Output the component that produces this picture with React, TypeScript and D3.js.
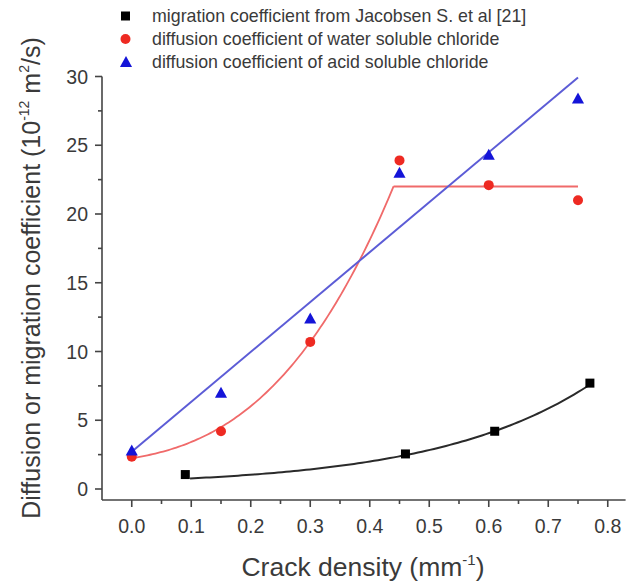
import React from "react";
import * as d3 from "d3";

// ---- data ----
const blackX = [0.09, 0.46, 0.61, 0.77];
const blackY = [1.05, 2.55, 4.2, 7.7];
const redX = [0.0, 0.15, 0.3, 0.45, 0.6, 0.75];
const redY = [2.35, 4.2, 10.7, 23.9, 22.1, 21.0];
const blueX = [0.0, 0.15, 0.3, 0.45, 0.6, 0.75];
const blueY = [2.8, 7.0, 12.4, 23.0, 24.3, 28.4];

// fit parameters
const blackFit = { y0: 0.2, A: 0.39, b: 3.82, x0: 0.098, x1: 0.77 };
const redFitPoly = [2.24, 6.87, 38.2, 109.7]; // c0 + c1 x + c2 x^2 + c3 x^3
const redKnee = 0.44;
const redPlateau = 22.0;
const redEnd = 0.75;

const xTicks = [0, 0.1, 0.2, 0.3, 0.4, 0.5, 0.6, 0.7, 0.8];
const yTicks = [0, 5, 10, 15, 20, 25, 30];

const legendLabels = [
  "migration coefficient from Jacobsen S. et al [21]",
  "diffusion coefficient of water soluble chloride",
  "diffusion coefficient of acid soluble chloride",
];

const FONT = "'Liberation Sans', Arial, Helvetica, sans-serif";
const RED = "#ee2a22";
const RED_LINE = "#f06a6a";
const BLUE = "#1414d8";
const BLUE_LINE = "#5c5cd6";

export default function App() {
  const W = 631;
  const H = 582;
  const x = d3.scaleLinear().domain([-0.05, 0.83]).range([102, 625.6]);
  const y = d3.scaleLinear().domain([-0.8, 30]).range([500, 76.5]);

  // linear least squares for the blue series
  const mx = d3.mean(blueX)!;
  const my = d3.mean(blueY)!;
  const sxy = d3.sum(blueX.map((v, i) => (v - mx) * (blueY[i] - my)));
  const sxx = d3.sum(blueX.map((v) => (v - mx) * (v - mx)));
  const slope = sxy / sxx;
  const icpt = my - slope * mx;

  const line = d3
    .line<[number, number]>()
    .x((d) => x(d[0]))
    .y((d) => y(d[1]));

  const bluePts: [number, number][] = [
    [0, icpt],
    [0.75, icpt + slope * 0.75],
  ];

  const blackPts: [number, number][] = d3
    .range(0, 101)
    .map((i) => blackFit.x0 + ((blackFit.x1 - blackFit.x0) * i) / 100)
    .map((v) => [v, blackFit.y0 + blackFit.A * Math.exp(blackFit.b * v)]);

  const redPts: [number, number][] = d3
    .range(0, 101)
    .map((i) => (redKnee * i) / 100)
    .map((v) => [
      v,
      redFitPoly[0] + redFitPoly[1] * v + redFitPoly[2] * v * v + redFitPoly[3] * v * v * v,
    ]);
  redPts.push([redKnee, redPlateau], [redEnd, redPlateau]);

  const minorX = d3.range(0, 17).map((i) => i * 0.05).filter((v) => Math.round(v * 100) % 10 !== 0);
  const minorY = d3.range(0, 13).map((i) => i * 2.5).filter((v) => v % 5 !== 0);

  const tri = (cx: number, cy: number, s: number) =>
    `M${cx},${cy - s * 0.55} L${cx + s * 0.55},${cy + s * 0.45} L${cx - s * 0.55},${cy + s * 0.45} Z`;

  const legendY = [16, 39, 62];

  return (
    <svg width={W} height={H} style={{ position: "absolute", left: 0, top: 0, background: "#fff" }}>
      {/* legend */}
      <g fontFamily={FONT} fontSize={17.8} fill="#3a3a3a">
        <rect x={121} y={legendY[0] - 4.5} width={9} height={9} fill="#000" />
        <circle cx={125.5} cy={legendY[1]} r={5} fill={RED} />
        <path d={tri(126, legendY[2], 11)} fill={BLUE} />
        {legendLabels.map((t, i) => (
          <text key={i} x={152} y={legendY[i] + 6}>
            {t}
          </text>
        ))}
      </g>

      {/* axes */}
      <g stroke="#444" strokeWidth={1.6} fill="none">
        <line x1={x.range()[0]} x2={x.range()[1]} y1={500} y2={500} />
        <line x1={102} x2={102} y1={500} y2={y(30)} />
        {xTicks.map((t) => (
          <line key={"xt" + t} x1={x(t)} x2={x(t)} y1={500} y2={507} />
        ))}
        {minorX.map((t) => (
          <line key={"xm" + t} x1={x(t)} x2={x(t)} y1={500} y2={504} />
        ))}
        {yTicks.map((t) => (
          <line key={"yt" + t} x1={102} x2={95} y1={y(t)} y2={y(t)} />
        ))}
        {minorY.map((t) => (
          <line key={"ym" + t} x1={102} x2={98} y1={y(t)} y2={y(t)} />
        ))}
      </g>
      <g fontFamily={FONT} fontSize={19.5} fill="#3a3a3a">
        {xTicks.map((t) => (
          <text key={"xl" + t} x={x(t)} y={533} textAnchor="middle">
            {d3.format(".1f")(t)}
          </text>
        ))}
        {yTicks.map((t) => (
          <text key={"yl" + t} x={88} y={y(t) + 7} textAnchor="end">
            {t}
          </text>
        ))}
      </g>

      {/* axis titles */}
      <text x={363} y={576} fontFamily={FONT} fontSize={26.5} fill="#3a3a3a" textAnchor="middle">
        Crack density (mm
        <tspan fontSize={15} dy={-11}>-1</tspan>
        <tspan dy={11}>)</tspan>
      </text>
      <text
        transform={`translate(40,${278}) rotate(-90)`}
        fontFamily={FONT}
        fontSize={25}
        fill="#3a3a3a"
        textAnchor="middle"
      >
        Diffusion or migration coefficient (10
        <tspan fontSize={14} dy={-11}>-12</tspan>
        <tspan dy={11}> m</tspan>
        <tspan fontSize={14} dy={-11}>2</tspan>
        <tspan dy={11}>/s)</tspan>
      </text>

      {/* fit curves */}
      <path d={line(blackPts)!} fill="none" stroke="#2a2a2a" strokeWidth={2} />
      <path d={line(redPts)!} fill="none" stroke={RED_LINE} strokeWidth={1.8} />
      <path d={line(bluePts)!} fill="none" stroke={BLUE_LINE} strokeWidth={2} />

      {/* markers */}
      {blackX.map((v, i) => (
        <rect key={"b" + i} x={x(v) - 4.5} y={y(blackY[i]) - 4.5} width={9} height={9} fill="#000" />
      ))}
      {redX.map((v, i) => (
        <circle key={"r" + i} cx={x(v)} cy={y(redY[i])} r={5} fill={RED} />
      ))}
      {blueX.map((v, i) => (
        <path key={"t" + i} d={tri(x(v), y(blueY[i]), 11)} fill={BLUE} />
      ))}
    </svg>
  );
}
